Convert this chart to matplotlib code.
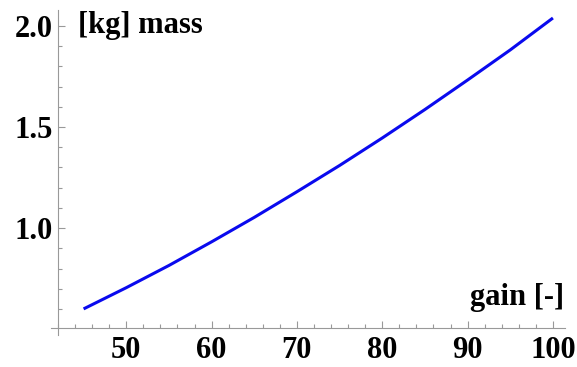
import numpy as np
import matplotlib
matplotlib.use("Agg")
import matplotlib.pyplot as plt
from matplotlib.ticker import MultipleLocator

# gain [-] vs mass [kg]
gain = [45, 50, 55, 60, 65, 70, 75, 80, 85, 90, 95, 100]
mass = [0.60, 0.705, 0.815, 0.932, 1.053, 1.18, 1.31, 1.446, 1.587, 1.733, 1.882, 2.04]

label_font = dict(family="Liberation Serif", weight="bold", size=22)

fig = plt.figure(figsize=(5.77, 3.67), dpi=100)
ax = fig.add_axes([0.1005, 0.106, 0.8785, 0.867])

ax.plot(gain, mass, color="#0a0aee", lw=2.2, solid_capstyle="butt")

ax.set_xlim(42, 101.4)
ax.set_ylim(0.505, 2.08)

for side in ("top", "right"):
    ax.spines[side].set_visible(False)
for side in ("left", "bottom"):
    ax.spines[side].set_color("#999999")
    ax.spines[side].set_linewidth(0.8)
ax.spines["left"].set_bounds(0.47, 2.08)
ax.spines["bottom"].set_bounds(41.2, 101.4)

ax.xaxis.set_major_locator(MultipleLocator(10))
ax.xaxis.set_minor_locator(MultipleLocator(2))
ax.yaxis.set_minor_locator(MultipleLocator(0.1))
ax.set_yticks([1.0, 1.5, 2.0])
ax.set_yticklabels(["1.0", "1.5", "2.0"])

ax.tick_params(which="both", direction="in", color="#999999", width=0.8)
ax.tick_params(which="major", length=5)
ax.tick_params(which="minor", length=3)
ax.tick_params(axis="x", which="major", pad=6)
ax.tick_params(axis="y", which="major", pad=4)
for lbl in ax.get_xticklabels() + ax.get_yticklabels():
    lbl.set_fontfamily("Liberation Serif")
    lbl.set_fontweight("bold")
    lbl.set_fontsize(22)

ax.text(0.04, 0.95, "[kg] mass", transform=ax.transAxes, ha="left", va="center",
        **label_font)
ax.text(0.998, 0.095, "gain [-]", transform=ax.transAxes, ha="right", va="center",
        **label_font)

fig.savefig("out.png", dpi=100)
